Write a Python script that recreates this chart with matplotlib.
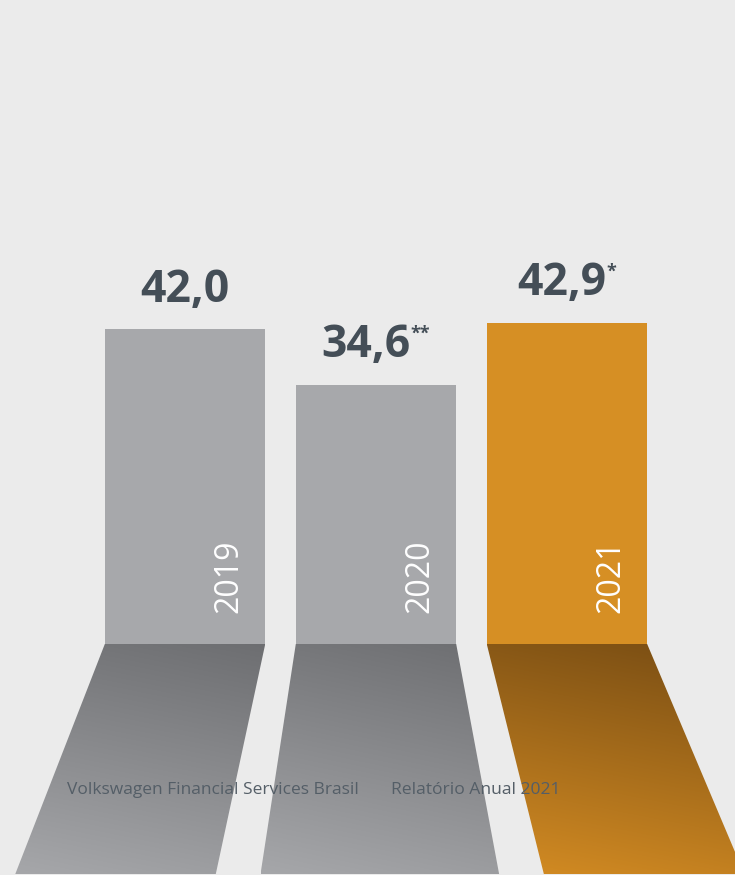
import numpy as np
import matplotlib
matplotlib.use("Agg")
import matplotlib.pyplot as plt
from matplotlib.patches import Polygon
from matplotlib.transforms import ScaledTranslation

# data
years = ["2019", "2020", "2021"]
values = [42.0, 34.6, 42.9]
value_labels = ["42,0", "34,6", "42,9"]
notes = ["", "**", "*"]

bar_colors = ["#a7a8ab", "#a7a8ab", "#d68f24"]
shadow_top = ["#6d6e71", "#6d6e71", "#774c13"]
shadow_bottom = ["#a6a7aa", "#a6a7aa", "#d48c23"]
bg = "#ebebeb"
text_dark = "#444e57"

plt.rcParams["font.family"] = ["Open Sans", "DejaVu Sans"]

fig = plt.figure(figsize=(7.35, 8.75), dpi=100)
fig.patch.set_facecolor(bg)
ax = fig.add_axes([0, 0, 1, 1])
ax.set_facecolor(bg)

x = np.arange(len(years))
width = 0.84
ylo, yhi = -30.84, 85.98
xlo, xhi = -0.969, 2.880

ax.bar(x, values, width=width, color=bar_colors, zorder=2)

# perspective "floor" shadows under each bar, fanning out from the middle bar
mid = x.mean()
for i in range(len(x)):
    l, r = x[i] - width / 2, x[i] + width / 2
    off = x[i] - mid
    bc = x[i] + 0.384 * off + 0.02
    bw = width * (1.4875 - 0.2375 * abs(off))
    bl, br = bc - bw / 2, bc + bw / 2
    yb = ylo + 0.13
    poly = Polygon([(l, 0), (r, 0), (br, yb), (bl, yb)], closed=True,
                   facecolor="none", edgecolor="none")
    ax.add_patch(poly)
    v = np.linspace(0, 1, 200)[:, None]
    h = np.linspace(0, 1, 200)[None, :]
    t = np.clip(0.82 * v + 0.18 * (1 - h), 0, 1)[..., None]
    c0 = np.array(matplotlib.colors.to_rgb(shadow_top[i]))
    c1 = np.array(matplotlib.colors.to_rgb(shadow_bottom[i]))
    img = c0 + (c1 - c0) * t
    im = ax.imshow(img, extent=[min(l, bl), max(r, br), yb, 0],
                   aspect="auto", origin="upper", zorder=1)
    im.set_clip_path(poly)

# labels
fig.canvas.draw()
renderer = fig.canvas.get_renderer()
for i in range(len(x)):
    t = ax.text(x[i], values[i] + 3.7, value_labels[i], ha="center",
                va="baseline", fontsize=32, fontweight="bold",
                color=text_dark, zorder=3)
    if notes[i]:
        s = ax.annotate(notes[i], xy=(1, 0.97), xycoords=t, ha="left",
                        va="top", fontsize=13, fontweight="bold",
                        color=text_dark, zorder=3)
        w = s.get_window_extent(renderer).width
        t.set_transform(ax.transData + ScaledTranslation(-w / 2 / fig.dpi, 0,
                                                         fig.dpi_scale_trans))
    ax.text(x[i] + 0.23, 4.1, years[i], rotation=90, ha="center",
            va="bottom", fontsize=23, fontweight="normal", color="white",
            zorder=3)

ax.set_xlim(xlo, xhi)
ax.set_ylim(ylo, yhi)
ax.axis("off")

fig.text(67 / 735, 1 - 790 / 875, "Volkswagen Financial Services Brasil",
         va="center", ha="left", fontsize=12.5, color="#545e67")
fig.text(391 / 735, 1 - 790 / 875, "Relatório Anual 2021",
         va="center", ha="left", fontsize=12.6, color="#545e67")

fig.savefig("out.png", dpi=100, facecolor=bg)
